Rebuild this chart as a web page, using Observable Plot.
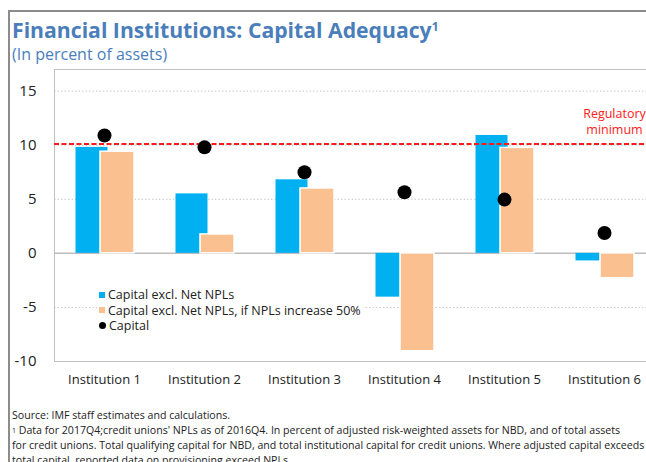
<!DOCTYPE html>
<html><head><meta charset="utf-8">
<script src="https://cdn.jsdelivr.net/npm/d3@7"></script>
<script src="https://cdn.jsdelivr.net/npm/@observablehq/plot@0.6"></script>
<style>
body{margin:0;background:#fff;font-family:"Open Sans",Lato,sans-serif;}
#wrap{position:relative;width:646px;height:462px;overflow:hidden;background:#fff;}
#frame{position:absolute;left:8px;top:10px;width:800px;height:600px;border-left:2px solid #8c8c8c;border-top:2px solid #8c8c8c;}
#title{position:absolute;left:12px;top:17px;font-size:21.2px;font-weight:bold;color:#4a7ebb;white-space:nowrap;line-height:26px;}
#title sup{font-size:12px;vertical-align:top;position:relative;top:-3px;}
#subtitle{position:absolute;left:12px;top:44px;font-size:16px;color:#4a7ebb;white-space:nowrap;line-height:20px;}
#chart{position:absolute;left:0;top:60px;width:654px;}
#chart svg{max-width:none !important;}
#legend{position:absolute;left:97px;top:287px;background:#fff;font-size:12.5px;color:#222;line-height:15.5px;padding:0 2px;}
#legend .row{display:flex;align-items:center;white-space:nowrap;}
#legend .sw{width:6px;height:6px;margin-right:3px;}
#legend .dot{width:7px;height:7px;border-radius:50%;background:#000;margin-right:3px;}
#footer{position:absolute;left:12px;top:408px;font-size:10.6px;color:#222;line-height:15px;white-space:nowrap;}
#footer sup{font-size:7px;vertical-align:top;}
</style></head>
<body>
<div id="wrap">
  <div id="frame"></div>
  <div id="title">Financial Institutions: Capital Adequacy<sup>1</sup></div>
  <div id="subtitle">(In percent of assets)</div>
  <div id="chart"></div>
  <div id="legend"></div>
  <div id="footer">
    <div>Source: IMF staff estimates and calculations.</div>
    <div><sup>1</sup> Data for 2017Q4;credit unions' NPLs as of 2016Q4. In percent of adjusted risk-weighted assets for NBD, and of total assets</div>
    <div>for credit unions. Total qualifying capital for NBD, and total institutional capital for credit unions. Where adjusted capital exceeds</div>
    <div>total capital, reported data on provisioning exceed NPLs.</div>
  </div>
</div>
<script>
const institutions = ["Institution 1","Institution 2","Institution 3","Institution 4","Institution 5","Institution 6"];
const capitalExclNPL = [9.8, 5.5, 6.8, -4.05, 10.9, -0.7];
const capitalExclNPLStress = [9.4, 1.75, 6.0, -9.05, 9.75, -2.3];
const capital = [10.9, 9.8, 7.5, 5.65, 4.97, 1.88];
const regulatoryMinimum = 10.1;
const yTicks = [-10, -5, 0, 5, 10, 15];
const seriesNames = ["Capital excl. Net NPLs", "Capital excl. Net NPLs, if NPLs increase 50%", "Capital"];
const seriesColors = ["#00b0f0", "#fac090", "#000000"];
const regLabel = "Regulatory\nminimum";

const rows = institutions.map((name, i) => ({
  name, a: capitalExclNPL[i], b: capitalExclNPLStress[i], c: capital[i]
}));

const plot = Plot.plot({
  width: 654,
  height: 340,
  marginLeft: 54,
  marginRight: 0,
  marginTop: 9,
  marginBottom: 39,
  style: {fontFamily: "'Open Sans', Lato, sans-serif", fontSize: "13px", background: "transparent", color: "#222", maxWidth: "none"},
  x: {type: "band", domain: institutions, padding: 0},
  y: {domain: [-10, 17]},
  marks: [
    Plot.ruleY(yTicks.filter(d => d !== 0 && d !== -10), {stroke: "#c8c8c8", strokeDasharray: "1.5,2"}),
    Plot.frame({stroke: "#c0c0c0"}),
    Plot.ruleY([0], {stroke: "#bdbdbd", strokeWidth: 1.5}),
    Plot.barY(rows, {x: "name", y: "a", fill: seriesColors[0], insetLeft: 21.5, insetRight: 46.5}),
    Plot.barY(rows, {x: "name", y: "b", fill: seriesColors[1], stroke: "#fff", strokeWidth: 1.5, insetLeft: 46, insetRight: 20}),
    Plot.ruleY([regulatoryMinimum], {stroke: "#ff1a1a", strokeWidth: 2, strokeDasharray: "5,2.5"}),
    Plot.dot(rows, {x: "name", y: "c", r: 7, fill: seriesColors[2]}),
    Plot.text([regLabel], {frameAnchor: "right", y: [regulatoryMinimum], dx: -40, dy: -23, textAnchor: "middle", lineAnchor: "middle", lineHeight: 1.28, fill: "#ff2020", fontSize: 12.5}),
    Plot.axisY({ticks: yTicks, tickSize: 0, tickPadding: 18, tickFormat: d => String(d), fontSize: 15, label: null}),
    Plot.axisX({tickSize: 0, tickPadding: 13, fontSize: 13, label: null})
  ]
});
document.getElementById("chart").appendChild(plot);

const legend = document.getElementById("legend");
seriesNames.forEach((s, i) => {
  const row = document.createElement("div");
  row.className = "row";
  const sw = document.createElement("span");
  sw.className = i === 2 ? "dot" : "sw";
  if (i !== 2) sw.style.background = seriesColors[i];
  row.appendChild(sw);
  row.appendChild(document.createTextNode(s));
  legend.appendChild(row);
});
</script>
</body></html>
